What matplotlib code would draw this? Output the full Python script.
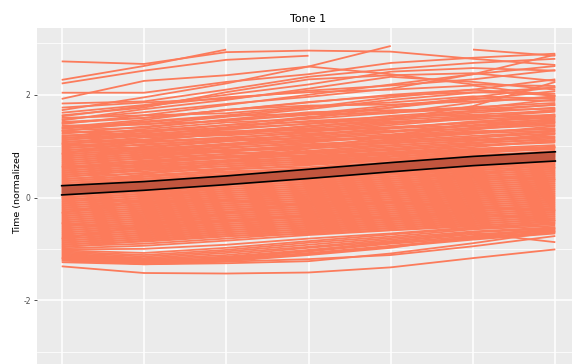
import numpy as np
import matplotlib
matplotlib.use("Agg")
import matplotlib.pyplot as plt

nan = np.nan

time_points = [1, 2, 3, 4, 5, 6, 7]
y_ticks = [-2, 0, 2]
y_tick_labels = ["-2", "0", "2"]
title = "Tone 1"
y_label = "Time (normalized"

# individual trajectories above the main band
high_tracks = [
    [2.65, 2.60, 2.83, 2.86, 2.84, 2.70, 2.58],
    [2.29, 2.56, 2.88, nan, nan, nan, nan],
    [2.22, 2.47, 2.68, 2.76, nan, nan, nan],
    [2.04, 2.04, 2.25, 2.40, 2.62, 2.72, 2.80],
    [1.92, 2.27, 2.38, 2.55, 2.95, nan, nan],
    [nan, nan, nan, nan, nan, 2.88, 2.76],
    [1.83, 1.87, 2.10, 2.35, 2.50, 2.62, 2.70],
    [1.65, 1.80, 2.00, 2.20, 2.45, 2.52, 2.47],
    [1.60, 1.75, 2.05, 2.30, 2.38, 2.42, 2.27],
    [1.70, 1.95, 2.22, 2.55, 2.40, 2.20, 2.17],
    [1.55, 1.60, 1.80, 2.00, 2.20, 2.40, 2.56],
    [1.58, 1.78, 1.95, 2.05, 2.10, 2.18, 1.98],
    [1.50, 1.72, 1.90, 2.12, 2.35, 2.25, 2.10],
    [1.45, 1.55, 1.70, 1.85, 2.00, 2.10, 1.98],
    [1.52, 1.66, 1.82, 1.96, 2.12, 2.40, 2.78],
    [1.35, 1.48, 1.60, 1.75, 1.95, 2.10, 2.30],
    [1.75, 1.85, 1.92, 2.08, 2.18, 2.30, 2.48],
]

# upper half of the main band
upper_tracks = [
    [1.47, 1.55, 1.70, 1.86, 1.98, 2.05, 2.02],
    [1.43, 1.60, 1.64, 1.77, 1.85, 1.97, 1.92],
    [1.40, 1.42, 1.57, 1.72, 1.90, 2.04, 2.14],
    [1.37, 1.51, 1.71, 1.79, 1.81, 1.87, 1.95],
    [1.34, 1.43, 1.49, 1.61, 1.75, 1.91, 2.07],
    [1.31, 1.36, 1.52, 1.66, 1.70, 1.72, 1.80],
    [1.29, 1.46, 1.59, 1.63, 1.79, 1.93, 1.88],
    [1.26, 1.30, 1.41, 1.57, 1.68, 1.76, 1.84],
    [1.24, 1.38, 1.50, 1.62, 1.64, 1.85, 1.97],
    [1.21, 1.24, 1.32, 1.44, 1.59, 1.69, 1.73],
    [1.19, 1.33, 1.46, 1.53, 1.65, 1.73, 1.91],
    [1.17, 1.21, 1.37, 1.49, 1.57, 1.61, 1.69],
    [1.15, 1.29, 1.35, 1.43, 1.54, 1.68, 1.81],
    [1.13, 1.19, 1.27, 1.39, 1.51, 1.59, 1.57],
    [1.11, 1.26, 1.41, 1.47, 1.53, 1.65, 1.75],
    [1.09, 1.13, 1.23, 1.35, 1.46, 1.57, 1.67],
    [1.07, 1.21, 1.29, 1.31, 1.44, 1.56, 1.61],
    [1.05, 1.11, 1.25, 1.39, 1.48, 1.52, 1.59],
    [1.03, 1.17, 1.21, 1.29, 1.41, 1.54, 1.71],
    [1.01, 1.07, 1.15, 1.28, 1.37, 1.45, 1.51],
    [0.99, 1.11, 1.24, 1.33, 1.36, 1.47, 1.58],
    [0.97, 1.02, 1.13, 1.21, 1.34, 1.48, 1.55],
    [0.95, 1.09, 1.17, 1.25, 1.30, 1.39, 1.46],
    [0.93, 0.97, 1.09, 1.23, 1.35, 1.40, 1.49],
    [0.91, 1.04, 1.11, 1.16, 1.27, 1.41, 1.53],
    [0.89, 0.94, 1.04, 1.19, 1.29, 1.34, 1.41],
    [0.87, 0.99, 1.10, 1.15, 1.23, 1.36, 1.44],
    [0.85, 0.91, 1.01, 1.09, 1.21, 1.32, 1.47],
    [0.83, 0.95, 1.03, 1.13, 1.17, 1.27, 1.35],
    [0.81, 0.87, 0.96, 1.07, 1.19, 1.29, 1.33],
    [0.79, 0.92, 1.05, 1.11, 1.15, 1.24, 1.39],
    [0.77, 0.83, 0.91, 1.02, 1.13, 1.25, 1.30],
    [0.75, 0.89, 0.98, 1.04, 1.11, 1.20, 1.28],
    [0.73, 0.79, 0.89, 0.99, 1.09, 1.17, 1.25],
    [0.71, 0.85, 0.93, 1.01, 1.05, 1.15, 1.31],
    [0.69, 0.75, 0.84, 0.95, 1.07, 1.13, 1.19],
    [0.67, 0.81, 0.90, 0.96, 1.02, 1.10, 1.17],
    [0.65, 0.71, 0.79, 0.91, 1.01, 1.11, 1.23],
    [0.63, 0.77, 0.85, 0.89, 0.98, 1.07, 1.12],
    [0.61, 0.67, 0.77, 0.87, 0.95, 1.05, 1.15],
    [0.59, 0.72, 0.81, 0.86, 0.92, 1.02, 1.09],
    [0.57, 0.63, 0.73, 0.83, 0.93, 1.01, 1.07],
    [0.55, 0.69, 0.77, 0.81, 0.89, 0.98, 1.11],
    [0.53, 0.59, 0.69, 0.79, 0.87, 0.95, 1.02],
    [0.51, 0.65, 0.72, 0.77, 0.85, 0.93, 0.99],
]

# trajectories that cut across the band
crossing_tracks = [
    [0.20, 0.45, 0.70, 0.95, 1.20, 1.45, 1.62],
    [1.05, 0.95, 0.88, 0.80, 0.72, 0.66, 0.58],
    [-0.30, -0.05, 0.25, 0.55, 0.80, 1.05, 1.25],
    [0.60, 0.62, 0.50, 0.42, 0.48, 0.40, 0.35],
    [1.30, 1.20, 1.25, 1.38, 1.52, 1.78, 2.25],
    [-0.80, -0.55, -0.30, -0.10, 0.15, 0.42, 0.70],
    [0.00, -0.10, -0.05, -0.15, -0.10, -0.20, -0.25],
    [0.85, 1.10, 1.35, 1.55, 1.75, 1.95, 2.15],
    [-0.50, -0.60, -0.45, -0.35, -0.40, -0.30, -0.45],
]

# lower half of the main band
lower_tracks = [
    [0.49, 0.55, 0.65, 0.75, 0.83, 0.91, 0.98],
    [0.47, 0.61, 0.69, 0.73, 0.80, 0.89, 0.96],
    [0.45, 0.51, 0.61, 0.71, 0.79, 0.87, 0.94],
    [0.43, 0.57, 0.65, 0.69, 0.76, 0.85, 0.98],
    [0.41, 0.47, 0.57, 0.67, 0.75, 0.83, 0.89],
    [0.39, 0.54, 0.61, 0.65, 0.73, 0.82, 0.87],
    [0.37, 0.41, 0.54, 0.63, 0.72, 0.79, 0.91],
    [0.35, 0.48, 0.56, 0.59, 0.69, 0.78, 0.83],
    [0.33, 0.37, 0.46, 0.57, 0.66, 0.75, 0.81],
    [0.31, 0.44, 0.51, 0.56, 0.63, 0.73, 0.85],
    [0.29, 0.33, 0.43, 0.53, 0.61, 0.70, 0.76],
    [0.27, 0.40, 0.49, 0.52, 0.60, 0.68, 0.74],
    [0.25, 0.30, 0.39, 0.50, 0.59, 0.67, 0.79],
    [0.23, 0.36, 0.45, 0.48, 0.56, 0.65, 0.71],
    [0.21, 0.26, 0.35, 0.46, 0.55, 0.63, 0.72],
    [0.19, 0.32, 0.40, 0.44, 0.53, 0.62, 0.68],
    [0.17, 0.22, 0.32, 0.43, 0.51, 0.60, 0.69],
    [0.15, 0.28, 0.36, 0.41, 0.49, 0.58, 0.64],
    [0.13, 0.18, 0.28, 0.39, 0.47, 0.56, 0.66],
    [0.11, 0.24, 0.33, 0.37, 0.45, 0.54, 0.60],
    [0.09, 0.14, 0.24, 0.35, 0.44, 0.52, 0.63],
    [0.07, 0.20, 0.29, 0.33, 0.41, 0.50, 0.56],
    [0.05, 0.10, 0.20, 0.31, 0.40, 0.48, 0.59],
    [0.03, 0.16, 0.25, 0.29, 0.37, 0.46, 0.52],
    [0.01, 0.06, 0.16, 0.27, 0.36, 0.44, 0.55],
    [-0.01, 0.12, 0.21, 0.25, 0.33, 0.42, 0.48],
    [-0.03, 0.02, 0.12, 0.23, 0.32, 0.40, 0.51],
    [-0.05, 0.08, 0.17, 0.21, 0.29, 0.38, 0.44],
    [-0.07, -0.02, 0.08, 0.19, 0.28, 0.36, 0.47],
    [-0.09, 0.04, 0.13, 0.17, 0.25, 0.34, 0.40],
    [-0.11, -0.06, 0.04, 0.15, 0.24, 0.32, 0.43],
    [-0.13, 0.00, 0.09, 0.13, 0.21, 0.30, 0.36],
    [-0.15, -0.10, 0.00, 0.11, 0.20, 0.28, 0.39],
    [-0.17, -0.04, 0.05, 0.09, 0.17, 0.26, 0.32],
    [-0.19, -0.14, -0.04, 0.07, 0.16, 0.24, 0.35],
    [-0.21, -0.08, 0.01, 0.05, 0.13, 0.22, 0.28],
    [-0.23, -0.18, -0.08, 0.03, 0.12, 0.20, 0.31],
    [-0.25, -0.12, -0.03, 0.01, 0.09, 0.18, 0.24],
    [-0.27, -0.22, -0.12, -0.01, 0.08, 0.16, 0.27],
    [-0.29, -0.16, -0.07, -0.03, 0.05, 0.14, 0.20],
    [-0.31, -0.26, -0.16, -0.05, 0.04, 0.12, 0.23],
    [-0.33, -0.20, -0.11, -0.07, 0.01, 0.10, 0.16],
    [-0.35, -0.30, -0.20, -0.09, 0.00, 0.08, 0.19],
    [-0.37, -0.24, -0.15, -0.11, -0.03, 0.06, 0.12],
    [-0.39, -0.34, -0.24, -0.13, -0.04, 0.04, 0.15],
    [-0.41, -0.28, -0.19, -0.15, -0.07, 0.02, 0.08],
    [-0.43, -0.38, -0.28, -0.17, -0.08, 0.00, 0.11],
    [-0.45, -0.32, -0.23, -0.19, -0.11, -0.02, 0.04],
    [-0.47, -0.42, -0.32, -0.21, -0.12, -0.04, 0.07],
    [-0.49, -0.36, -0.27, -0.23, -0.15, -0.06, 0.00],
    [-0.51, -0.46, -0.36, -0.25, -0.16, -0.08, 0.03],
    [-0.53, -0.40, -0.31, -0.27, -0.19, -0.10, -0.04],
    [-0.55, -0.50, -0.40, -0.29, -0.20, -0.12, -0.01],
    [-0.57, -0.44, -0.35, -0.31, -0.23, -0.14, -0.08],
    [-0.59, -0.54, -0.44, -0.33, -0.24, -0.16, -0.05],
    [-0.61, -0.48, -0.39, -0.35, -0.27, -0.18, -0.12],
    [-0.63, -0.58, -0.48, -0.37, -0.28, -0.20, -0.09],
    [-0.65, -0.52, -0.43, -0.39, -0.31, -0.22, -0.16],
    [-0.67, -0.62, -0.52, -0.41, -0.32, -0.24, -0.13],
    [-0.69, -0.56, -0.47, -0.43, -0.35, -0.26, -0.20],
    [-0.71, -0.66, -0.56, -0.45, -0.36, -0.28, -0.17],
    [-0.73, -0.60, -0.51, -0.47, -0.39, -0.30, -0.24],
    [-0.75, -0.70, -0.60, -0.49, -0.40, -0.32, -0.21],
    [-0.77, -0.64, -0.55, -0.51, -0.43, -0.34, -0.28],
    [-0.79, -0.74, -0.64, -0.53, -0.44, -0.36, -0.25],
    [-0.81, -0.68, -0.59, -0.55, -0.47, -0.38, -0.32],
    [-0.83, -0.78, -0.68, -0.57, -0.48, -0.40, -0.29],
    [-0.85, -0.72, -0.63, -0.59, -0.51, -0.42, -0.36],
    [-0.87, -0.82, -0.72, -0.61, -0.52, -0.44, -0.33],
    [-0.89, -0.76, -0.67, -0.63, -0.55, -0.46, -0.40],
    [-0.91, -0.86, -0.76, -0.65, -0.56, -0.48, -0.37],
    [-0.93, -0.80, -0.71, -0.67, -0.59, -0.50, -0.44],
    [-0.95, -0.90, -0.80, -0.69, -0.60, -0.52, -0.41],
    [-0.97, -0.84, -0.75, -0.71, -0.63, -0.54, -0.48],
    [-0.99, -0.94, -0.84, -0.73, -0.64, -0.56, -0.45],
    [-1.01, -1.00, -0.92, -0.80, -0.70, -0.58, -0.50],
    [-1.03, -1.08, -0.98, -0.85, -0.72, -0.60, -0.52],
    [-1.05, -1.12, -1.02, -0.88, -0.76, -0.62, -0.55],
    [-1.07, -1.15, -1.05, -0.92, -0.79, -0.66, -0.58],
    [-1.09, -1.18, -1.08, -0.96, -0.82, -0.68, -0.60],
    [-1.11, -1.20, -1.12, -0.98, -0.85, -0.72, -0.62],
    [-1.13, -1.22, -1.15, -1.02, -0.88, -0.75, -0.64],
    [-1.15, -1.24, -1.18, -1.05, -0.90, -0.78, -0.66],
    [-1.17, -1.25, -1.20, -1.08, -0.94, -0.80, -0.68],
    [-1.19, -1.27, -1.22, -1.10, -0.96, -0.82, -0.70],
    [-1.21, -1.28, -1.24, -1.12, -0.98, -0.76, -0.60],
]

# isolated trajectories below the band
low_tracks = [
    [-1.34, -1.47, -1.48, -1.46, -1.36, -1.18, -1.01],
    [-1.26, -1.30, -1.28, -1.24, -1.09, -0.89, -0.66],
    [-1.23, -1.29, -1.17, -1.04, -0.86, -0.69, -0.87],
    [-1.18, -1.30, -1.25, -1.20, -1.12, -0.95, -0.75],
]

# group mean interval
mean_lower = [0.05, 0.14, 0.25, 0.37, 0.50, 0.62, 0.71]
mean_upper = [0.23, 0.31, 0.42, 0.55, 0.68, 0.80, 0.89]

track_color = "#FC7B5B"

fig = plt.figure(figsize=(5.72, 3.64), dpi=100)
fig.patch.set_facecolor("white")
ax = fig.add_axes([37 / 572, -3 / 364, 543 / 572, 339 / 364])
ax.set_facecolor("#EBEBEB")

ax.set_xlim(0.7, 7.3)
ax.set_ylim(-3.3, 3.3)

for y in [-3, -1, 1, 3]:
    ax.axhline(y, color="white", lw=0.55, zorder=0.5)
for y in y_ticks:
    ax.axhline(y, color="white", lw=1.1, zorder=0.6)
for x in time_points:
    ax.axvline(x, color="white", lw=1.1, zorder=0.6)

for group in (lower_tracks, upper_tracks, crossing_tracks, high_tracks, low_tracks):
    for track in group:
        ax.plot(time_points, track, color=track_color, lw=1.3, zorder=2,
                solid_capstyle="butt")

ax.fill_between(time_points, mean_lower, mean_upper, facecolor="#C2553E",
                edgecolor="none", zorder=3)
ax.plot(time_points, mean_lower, color="black", lw=1.2, zorder=4)
ax.plot(time_points, mean_upper, color="black", lw=1.2, zorder=4)

for s in ax.spines.values():
    s.set_visible(False)

ax.set_xticks([])
ax.set_yticks(y_ticks)
ax.set_yticklabels(y_tick_labels)
ax.tick_params(axis="y", length=2.5, width=0.6, color="#333333",
               labelcolor="#4D4D4D", labelsize=5.5, pad=2)

ax.set_title(title, fontsize=8, color="black", pad=4)
fig.text(18 / 572, 1 - 193 / 364, y_label, rotation=90, fontsize=6.8,
         ha="center", va="center", color="black")

fig.savefig("out.png", dpi=100)
